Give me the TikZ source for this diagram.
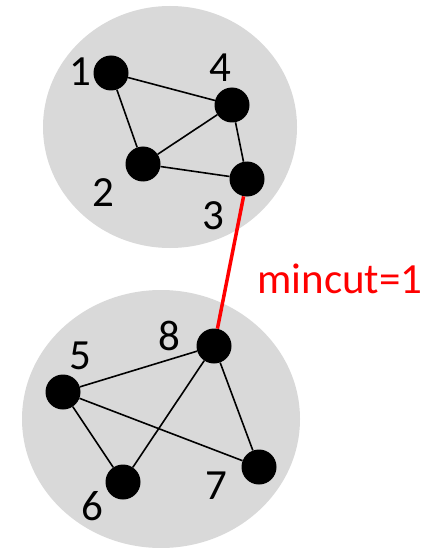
\documentclass[tikz,border=0pt]{standalone}
\usepackage{fontspec}
\setmainfont{Carlito}
\definecolor{clustergray}{HTML}{D9D9D9}
\tikzset{
  vertex/.style={circle, fill=black, minimum size=35pt, inner sep=0pt},
  cluster/.style={fill=clustergray, draw=none},
  vlabel/.style={font=\fontsize{43}{43}\selectfont, inner sep=0pt},
  edge/.style={draw=black, line width=1.6pt},
  cutedge/.style={draw=red, line width=3.5pt},
}
\begin{document}
\begin{tikzpicture}[x=1pt, y=-1pt]
  \useasboundingbox (0,0) rectangle (433,548);
  \begin{scope}
    \clip (0,0) rectangle (433,548);
    % two clusters
    \fill[cluster] (170,127) ellipse [x radius=127, y radius=121];
    \fill[cluster] (161,419) ellipse [x radius=139, y radius=129];
  \end{scope}

  % upper cluster vertices
  \node[vertex] (n1) at (111,73) {};
  \node[vertex] (n4) at (232,105) {};
  \node[vertex] (n2) at (143,164) {};
  \node[vertex] (n3) at (247,179) {};
  % lower cluster vertices
  \node[vertex] (n8) at (214,346) {};
  \node[vertex] (n5) at (63,392) {};
  \node[vertex] (n6) at (123,482) {};
  \node[vertex] (n7) at (259,467) {};

  % vertex labels
  \node[vlabel] (l1) at (80,72) {1};
  \node[vlabel] (l4) at (220,68) {4};
  \node[vlabel] (l2) at (103,193) {2};
  \node[vlabel] (l3) at (213,216) {3};
  \node[vlabel] (l8) at (169,336) {8};
  \node[vlabel] (l5) at (80,356) {5};
  \node[vlabel] (l6) at (92,506) {6};
  \node[vlabel] (l7) at (216,486) {7};

  % edges inside the clusters
  \draw[edge] (n1) -- (n4);
  \draw[edge] (n1) -- (n2);
  \draw[edge] (n2) -- (n4);
  \draw[edge] (n2) -- (n3);
  \draw[edge] (n4) -- (n3);
  \draw[edge] (n5) -- (n8);
  \draw[edge] (n5) -- (n6);
  \draw[edge] (n5) -- (n7);
  \draw[edge] (n8) -- (n6);
  \draw[edge] (n8) -- (n7);

  % the cut edge between the clusters
  \draw[cutedge] (n3) -- (n8);
  \node[vlabel, text=red] (cut) at (340,279) {mincut=1};
\end{tikzpicture}
\end{document}
